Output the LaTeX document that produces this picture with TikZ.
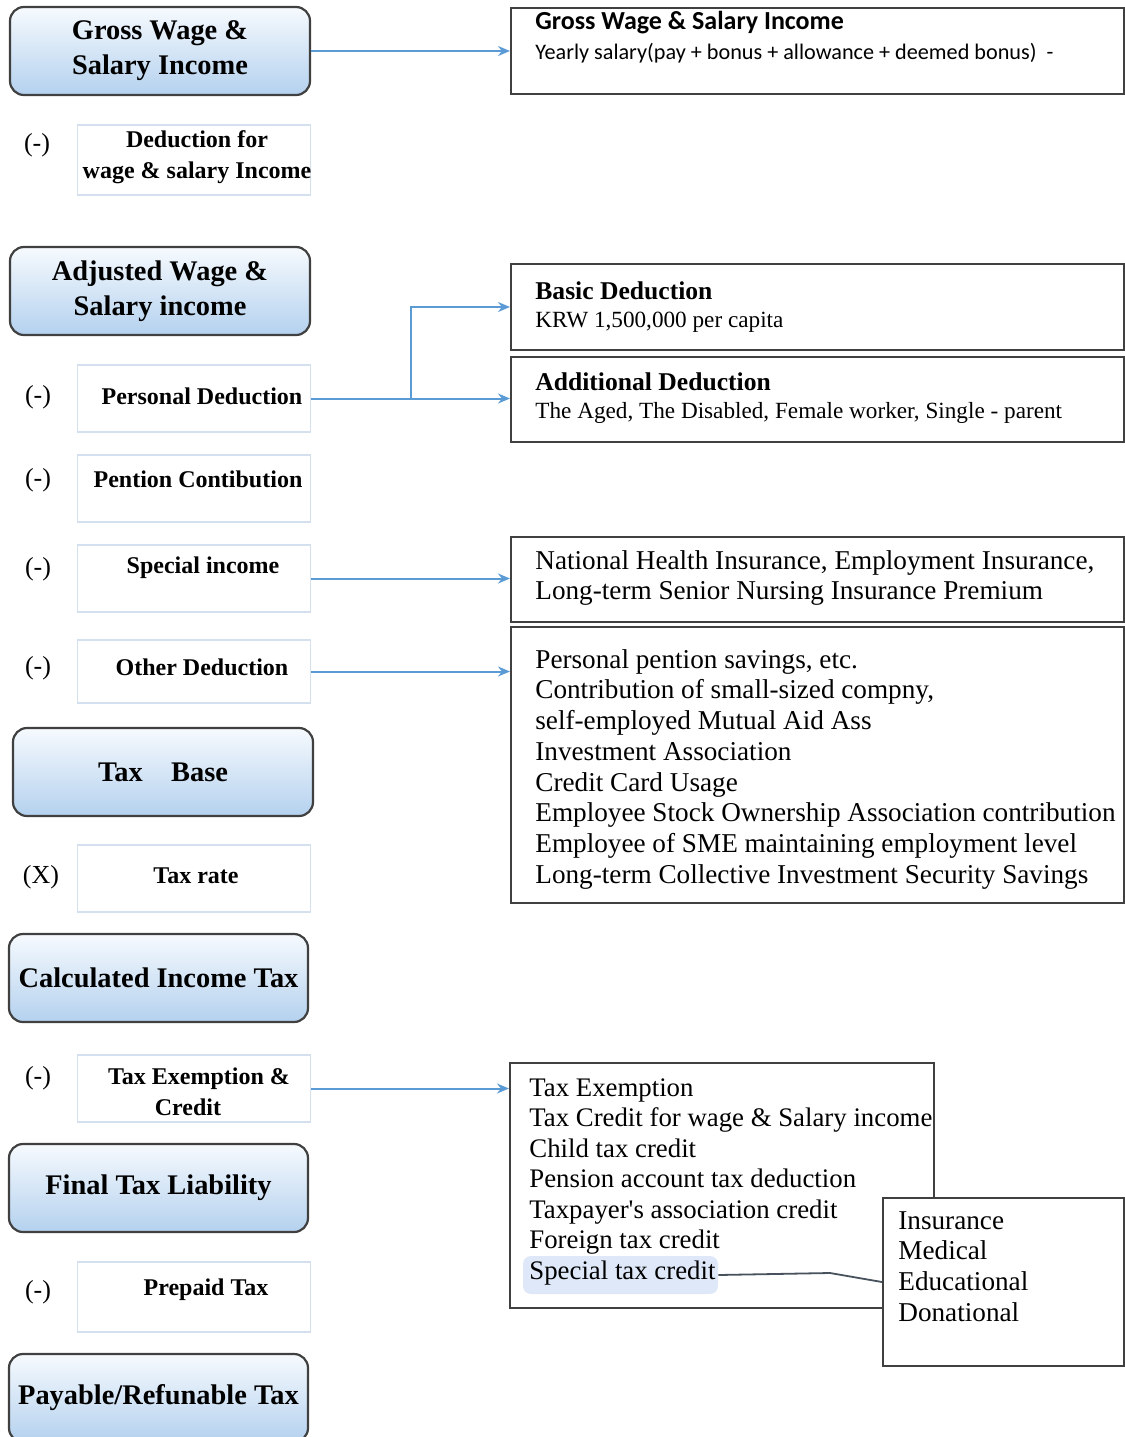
\documentclass[tikz,border=0pt]{standalone}
\usepackage{fontspec}
\setmainfont{Liberation Serif}
\newfontfamily\carlito{Carlito}
\usetikzlibrary{positioning,arrows.meta}
\definecolor{linkblue}{RGB}{91,155,213}
\definecolor{boxline}{RGB}{64,64,64}
\definecolor{shadetop}{RGB}{246,250,254}
\definecolor{shadebot}{RGB}{180,209,238}
\definecolor{subline}{RGB}{212,224,238}
\definecolor{hilite}{RGB}{222,232,248}
\definecolor{noteline}{RGB}{72,82,92}

\begin{document}
\begin{tikzpicture}[x=0.5pt,y=-0.5pt,
  mainbox/.style={draw=boxline,line width=1.1pt,rounded corners=7pt,top color=shadetop,bottom color=shadebot,
    minimum width=150pt,minimum height=44pt,align=center,inner sep=0pt,font=\fontsize{14.2}{17.5}\selectfont\bfseries},
  subbox/.style={draw=subline,line width=0.7pt,minimum width=116.5pt,minimum height=33.5pt,inner sep=0pt},
  subtext/.style={align=center,inner sep=0pt,font=\fontsize{12}{15.5}\selectfont\bfseries},
  sign/.style={inner sep=0pt,font=\fontsize{13}{15}\selectfont},
  infobox/.style={draw=boxline,line width=1pt,fill=white,inner sep=0pt},
  infotext/.style={anchor=north west,align=left,inner sep=0pt,font=\fontsize{13.6}{15.35}\selectfont},
  link/.style={draw=linkblue,line width=1pt,-{Stealth[length=6pt,width=5pt]}}]
\useasboundingbox (0,0) rectangle (1125,1437);

% Left column: main steps
\node[mainbox] (gross) at (160,51) {Gross Wage \&\\Salary Income};
\node[mainbox] (adjusted) at (160,291) {Adjusted Wage \&\\Salary income};
\node[mainbox] (base) at (163,772) {Tax\quad Base};
\node[mainbox,minimum width=149.5pt] (calc) at (158.5,978) {Calculated Income Tax};
\node[mainbox,minimum width=149.5pt] (final) at (158.5,1188) {Final Tax Liability};
\node[mainbox,minimum width=149.5pt] (payable) at (158.5,1398) {Payable/Refunable Tax};

% Left column: deductions
\node[subbox,minimum height=35pt] (dedbox) at (194,160) {};
\node[subtext] (ded) at (197,157) {Deduction for\\wage \& salary Income};
\node[subbox] (pdbox) at (194,398.5) {};
\node[subtext] (pd) at (202,396) {Personal Deduction};
\node[subbox] (pcbox) at (194,488.5) {};
\node[subtext] (pc) at (198,479) {Pention Contibution};
\node[subbox] (spbox) at (194,578.5) {};
\node[subtext] (sp) at (203,568) {Special income};
\node[subbox,minimum height=31.5pt] (odbox) at (194,671.5) {};
\node[subtext] (od) at (202,667) {Other Deduction};
\node[subbox] (trbox) at (194,878.5) {};
\node[subtext] (tr) at (196,876) {Tax rate};
\node[subbox] (tebox) at (194,1088.5) {};
\node[subtext] (te) at (199,1092) {Tax Exemption \&\\Credit\hspace*{11pt}};
\node[subbox,minimum height=35pt] (ppbox) at (194,1297) {};
\node[subtext] (pp) at (206,1290) {Prepaid Tax};

% Signs
\node[sign] (s1) at (37,145) {(-)};
\node[sign] (s2) at (38,397) {(-)};
\node[sign] (s3) at (38,480) {(-)};
\node[sign] (s4) at (38,569) {(-)};
\node[sign] (s5) at (38,668) {(-)};
\node[sign] (s6) at (41,877) {(X)};
\node[sign] (s7) at (38,1078) {(-)};
\node[sign] (s8) at (38,1292) {(-)};

% Right column: details
\node[infobox,minimum width=306.5pt,minimum height=43pt] (r1) at (817.5,51) {};
\node[infotext,font=\carlito\fontsize{11.1}{15}\selectfont] (r1txt) at (535,11)
  {{\fontsize{13}{15}\selectfont\bfseries Gross Wage \& Salary Income}\\
   Yearly salary(pay + bonus + allowance + deemed bonus)\ \ -};
\node[infobox,minimum width=306.5pt,minimum height=43pt] (basic) at (817.5,307) {};
\node[infotext,font=\fontsize{11.6}{14}\selectfont] (basictxt) at (535,281)
  {{\fontsize{12.8}{14}\selectfont\bfseries Basic Deduction}\\ KRW 1,500,000 per capita};
\node[infobox,minimum width=306.5pt,minimum height=42.5pt] (addl) at (817.5,399.5) {};
\node[infotext,font=\fontsize{11.6}{14}\selectfont] (addltxt) at (535,372)
  {{\fontsize{12.8}{14}\selectfont\bfseries Additional Deduction}\\ The Aged, The Disabled, Female worker, Single - parent};
\node[infobox,minimum width=306.5pt,minimum height=42.5pt] (ins) at (817.5,579.5) {};
\node[infotext] (instxt) at (535,550)
  {National Health Insurance, Employment Insurance,\\ Long-term Senior Nursing Insurance Premium};
\node[infobox,minimum width=306.5pt,minimum height=138pt] (oth) at (817.5,765) {};
\node[infotext] (othtxt) at (535,649)
  {Personal pention savings, etc.\\ Contribution of small-sized compny,\\ self-employed Mutual Aid Ass\\
   Investment Association\\ Credit Card Usage\\ Employee Stock Ownership Association contribution\\
   Employee of SME maintaining employment level\\ Long-term Collective Investment Security Savings};
\node[infobox,fill=none,minimum width=212pt,minimum height=122.5pt] (cred) at (722,1185.5) {};
\node[fill=hilite,rounded corners=4pt,minimum width=97.5pt,minimum height=19pt,inner sep=0pt] (stc) at (620.5,1275) {};
\node[infotext,font=\fontsize{13.4}{15.25}\selectfont] (credtxt) at (529,1078)
  {Tax Exemption\\ Tax Credit for wage \& Salary income\\ Child tax credit\\ Pension account tax deduction\\
   Taxpayer\textquotesingle s association credit\\ Foreign tax credit\\ Special tax credit};
\node[infobox,minimum width=120.5pt,minimum height=84pt] (spec) at (1003.5,1282) {};
\node[infotext] (spectxt) at (898,1211) {Insurance\\ Medical\\ Educational\\ Donational};

% Connectors
\coordinate (split) at (411,398.5);
\coordinate (bend) at (830,1273);
\draw[link] (gross.east) -- (r1.west);
\draw[draw=linkblue,line width=1pt] (pdbox.east) -- (split);
\draw[link] (split) |- (basic.west);
\draw[link] (split) -- (split -| addl.west);
\draw[link] (spbox.east) -- (spbox.east -| ins.west);
\draw[link] (odbox.east) -- (odbox.east -| oth.west);
\draw[link] (tebox.east) -- (tebox.east -| cred.west);
\draw[draw=noteline,line width=0.9pt] (stc.east) -- (bend) -- (spec.west);
\end{tikzpicture}
\end{document}
